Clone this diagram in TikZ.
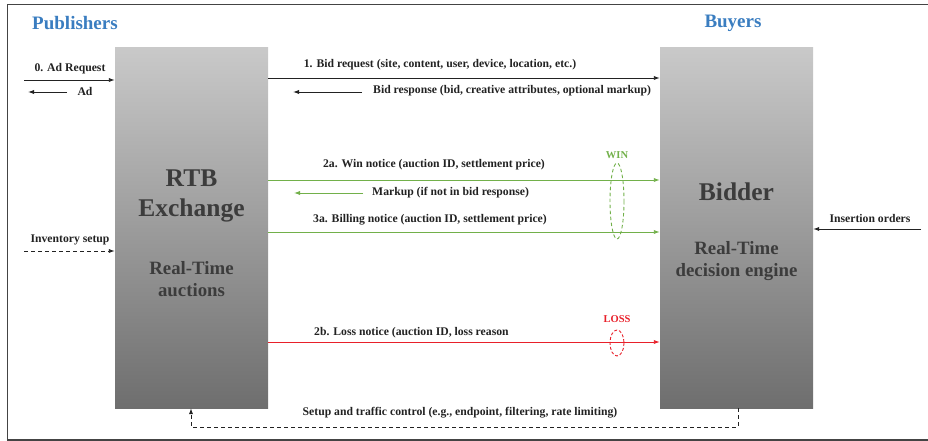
\documentclass[tikz,border=0pt]{standalone}
\usepackage{fontspec}
\setmainfont{Liberation Serif}
\usetikzlibrary{arrows.meta,calc}
\definecolor{ttlblue}{HTML}{3A7DC0}
\definecolor{wingreen}{HTML}{72B04A}
\definecolor{lossred}{HTML}{E8202A}
\definecolor{ink}{HTML}{222222}
\definecolor{boxtxt}{HTML}{3C3C3C}
\definecolor{frame}{HTML}{444444}

\begin{document}
\begin{tikzpicture}[x=1pt,y=-1pt,
  lbl/.style={font=\fontsize{11.7}{13}\selectfont\bfseries, text=ink, inner sep=0pt},
  ttl/.style={font=\fontsize{19}{22}\selectfont\bfseries, text=ttlblue, inner sep=0pt},
  engine/.style={shade, top color={rgb,255:red,201;green,201;blue,201},
    middle color={rgb,255:red,166;green,166;blue,166},
    bottom color={rgb,255:red,110;green,110;blue,110},
    minimum width=153pt, minimum height=360pt, inner sep=0pt, draw=none},
  big/.style={font=\fontsize{25.5}{30}\selectfont\bfseries, text=boxtxt, align=center, inner sep=0pt},
  sub/.style={font=\fontsize{18.8}{21.5}\selectfont\bfseries, text=boxtxt, align=center, inner sep=0pt},
  tag/.style={font=\fontsize{10.5}{12}\selectfont\bfseries, inner sep=0pt},
  msg/.style={-{Latex[length=6pt,width=4.2pt]}, line width=0.9pt},
  blackmsg/.style={msg, draw=ink},
  greenmsg/.style={msg, draw=wingreen, fill=wingreen},
  redmsg/.style={msg, draw=lossred, fill=lossred},
  ctrl/.style={msg, draw=ink, dash pattern=on 4pt off 3pt},
]
\useasboundingbox (0,0) rectangle (928,441);

% open frame
\draw[line width=1.4pt, frame] (928,4.5) -- (7.5,4.5) -- (7.5,440) -- (928,440);

% titles
\node[ttl] (pub) at (75,23.5) {Publishers};
\node[ttl] (buy) at (733,23.5) {Buyers};

% the two engines
\node[engine] (rtb) at (191.5,228) {};
\node[engine] (bidder) at (736.5,228) {};

\node[big] (rtbname) at (191.5,196) {RTB\\Exchange};
\node[sub] (rtbsub) at (191.5,279) {Real-Time\\auctions};
\node[big] (biddername) at (736.5,192) {Bidder};
\node[sub] (biddersub) at (736.5,261) {Real-Time\\decision engine};

% publisher side
\coordinate (adin) at (24,80);
\coordinate (adout0) at (67,92);
\coordinate (adout1) at (28,92);
\coordinate (inv) at (24,251);
\node[lbl] (adreq) at (70,69) {0. Ad Request};
\node[lbl] (ad) at (85,91) {Ad};
\node[lbl] (invlbl) at (70,240) {Inventory setup};
\draw[blackmsg] (adin) -- (rtb.west |- adin);
\draw[blackmsg] (adout0) -- (adout1);
\draw[ctrl] (inv) -- (rtb.west |- inv);

% bid request / response
\coordinate (breq) at (0,78);
\coordinate (bres0) at (362,92);
\coordinate (bres1) at (293,92);
\node[lbl] (breqlbl) at (440,65) {1. Bid request (site, content, user, device, location, etc.)};
\node[lbl, anchor=west] (bres) at (373,91) {Bid response (bid, creative attributes, optional markup)};
\draw[blackmsg] (rtb.east |- breq) -- (bidder.west |- breq);
\draw[blackmsg] (bres0) -- (bres1);

% win path
\coordinate (win) at (0,180);
\coordinate (bill) at (0,232);
\coordinate (mk0) at (363,193);
\coordinate (mk1) at (294,193);
\node[lbl] (winlbl) at (434,165) {2a. Win notice (auction ID, settlement price)};
\node[lbl, anchor=west] (mklbl) at (372,193) {Markup (if not in bid response)};
\node[lbl] (billlbl) at (430,220) {3a. Billing notice (auction ID, settlement price)};
\draw[greenmsg] (rtb.east |- win) -- (bidder.west |- win);
\draw[greenmsg] (mk0) -- (mk1);
\draw[greenmsg] (rtb.east |- bill) -- (bidder.west |- bill);
\node[tag, text=wingreen] (wintag) at (617,155) {WIN};
\draw[wingreen, line width=0.9pt, dash pattern=on 3.5pt off 2.5pt] (617,201) ellipse [x radius=7, y radius=38];

% loss path
\coordinate (loss) at (0,342);
\node[lbl, anchor=west] (losslbl) at (314,333) {2b. Loss notice (auction ID, loss reason};
\draw[redmsg] (rtb.east |- loss) -- (bidder.west |- loss);
\node[tag, text=lossred] (losstag) at (617,319) {LOSS};
\draw[lossred, line width=0.9pt, dash pattern=on 3pt off 2pt] (617,343) ellipse [x radius=7, y radius=13];

% buyer side
\coordinate (io) at (921,229);
\node[lbl] (iolbl) at (870,218) {Insertion orders};
\draw[blackmsg] (io) -- (bidder.east |- io);

% setup and traffic control loop
\coordinate (cr) at (738,427);
\coordinate (cl) at (191,427);
\node[lbl] (ctrllbl) at (460,413) {Setup and traffic control (e.g., endpoint, filtering, rate limiting)};
\draw[ctrl] (bidder.south -| cr) -- (cr) -- (cl) -- (rtb.south -| cl);
\end{tikzpicture}
\end{document}
